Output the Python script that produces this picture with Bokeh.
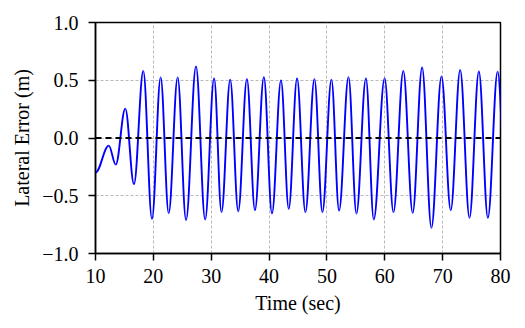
from bokeh.plotting import figure
from bokeh.models import Range1d, FixedTicker, CustomJSTickFormatter, ColumnDataSource, Span
from bokeh.embed import file_html
from bokeh.resources import INLINE

# Extrema of the lateral error signal (time in s, error in m)
ext_t = [10.0, 12.3, 13.5, 15.15, 16.65, 18.26, 19.76, 21.26, 22.65, 24.2, 25.65, 27.37,
         28.95, 30.5, 31.78, 33.28, 34.67, 36.17, 37.56, 39.1, 40.5, 42.06, 43.4, 44.84,
         46.28, 47.84, 49.22, 50.78, 52.1, 53.73, 55.1, 56.74, 58.1, 59.97, 61.5, 63.2,
         64.82, 66.45, 68.06, 69.8, 71.4, 73.03, 74.64, 76.26, 77.82, 79.5, 81.1]
ext_v = [-0.30, -0.066, -0.23, 0.254, -0.40, 0.58, -0.70, 0.525, -0.65, 0.525, -0.71, 0.62,
         -0.705, 0.516, -0.642, 0.505, -0.634, 0.51, -0.625, 0.527, -0.654, 0.499, -0.613, 0.516,
         -0.642, 0.51, -0.642, 0.505, -0.628, 0.527, -0.654, 0.516, -0.705, 0.516, -0.642, 0.58,
         -0.648, 0.611, -0.778, 0.533, -0.625, 0.59, -0.69, 0.576, -0.69, 0.574, -0.65]

x_ticks = [10, 20, 30, 40, 50, 60, 70, 80]
y_ticks = [-1.0, -0.5, 0.0, 0.5, 1.0]

# half-wave segments between consecutive extrema (cubic Bezier approximating a cosine)
k = 0.3634
x0 = ext_t[:-1]; x1 = ext_t[1:]
y0 = ext_v[:-1]; y1 = ext_v[1:]
cx0 = [a + k * (b - a) for a, b in zip(x0, x1)]
cx1 = [b - k * (b - a) for a, b in zip(x0, x1)]
src = ColumnDataSource(dict(x0=x0, y0=y0, x1=x1, y1=y1, cx0=cx0, cy0=y0, cx1=cx1, cy1=y1))

FONT = "Liberation Serif"

p = figure(width=520, height=320, output_backend="svg", toolbar_location=None,
           x_range=Range1d(10, 80), y_range=Range1d(-1, 1),
           min_border_left=95, min_border_right=20, min_border_top=22, min_border_bottom=67)

p.bezier(x0="x0", y0="y0", x1="x1", y1="y1", cx0="cx0", cy0="cy0", cx1="cx1", cy1="cy1",
         source=src, line_color="#0000ff", line_width=1.9)

p.add_layout(Span(location=0, dimension="width", line_color="black", line_width=2.2,
                  line_dash="6 4"))

p.xaxis.ticker = FixedTicker(ticks=x_ticks)
p.yaxis.ticker = FixedTicker(ticks=y_ticks)
p.yaxis.formatter = CustomJSTickFormatter(code="""
return (tick < 0 ? "\u2212" : "") + Math.abs(tick).toFixed(1);
""")
p.xaxis.axis_label = "Time (sec)"
p.yaxis.axis_label = "Lateral Error (m)"

for ax in (p.xaxis, p.yaxis):
    ax.axis_label_text_font = FONT
    ax.axis_label_text_font_style = "normal"
    ax.axis_label_text_font_size = "20px"
    ax.axis_label_text_color = "black"
    ax.major_label_text_font = FONT
    ax.major_label_text_font_size = "20px"
    ax.major_label_text_color = "black"
    ax.axis_line_color = "black"
    ax.axis_line_width = 1.5
    ax.major_tick_line_color = "black"
    ax.major_tick_line_width = 1.5
    ax.major_tick_out = 7
    ax.major_tick_in = 0
    ax.minor_tick_out = 0
    ax.minor_tick_in = 0
p.xaxis.major_label_standoff = 8
p.yaxis.major_label_standoff = 10
p.xaxis.axis_label_standoff = 6
p.yaxis.axis_label_standoff = 6

p.grid.grid_line_color = "#b8b8b8"
p.grid.grid_line_width = 1
p.grid.grid_line_dash = "3 2"
p.outline_line_color = "black"
p.outline_line_width = 1.5
p.outline_line_alpha = 1.0
p.background_fill_color = "white"
p.border_fill_color = "white"

open("out.html", "w").write(file_html(p, INLINE))
